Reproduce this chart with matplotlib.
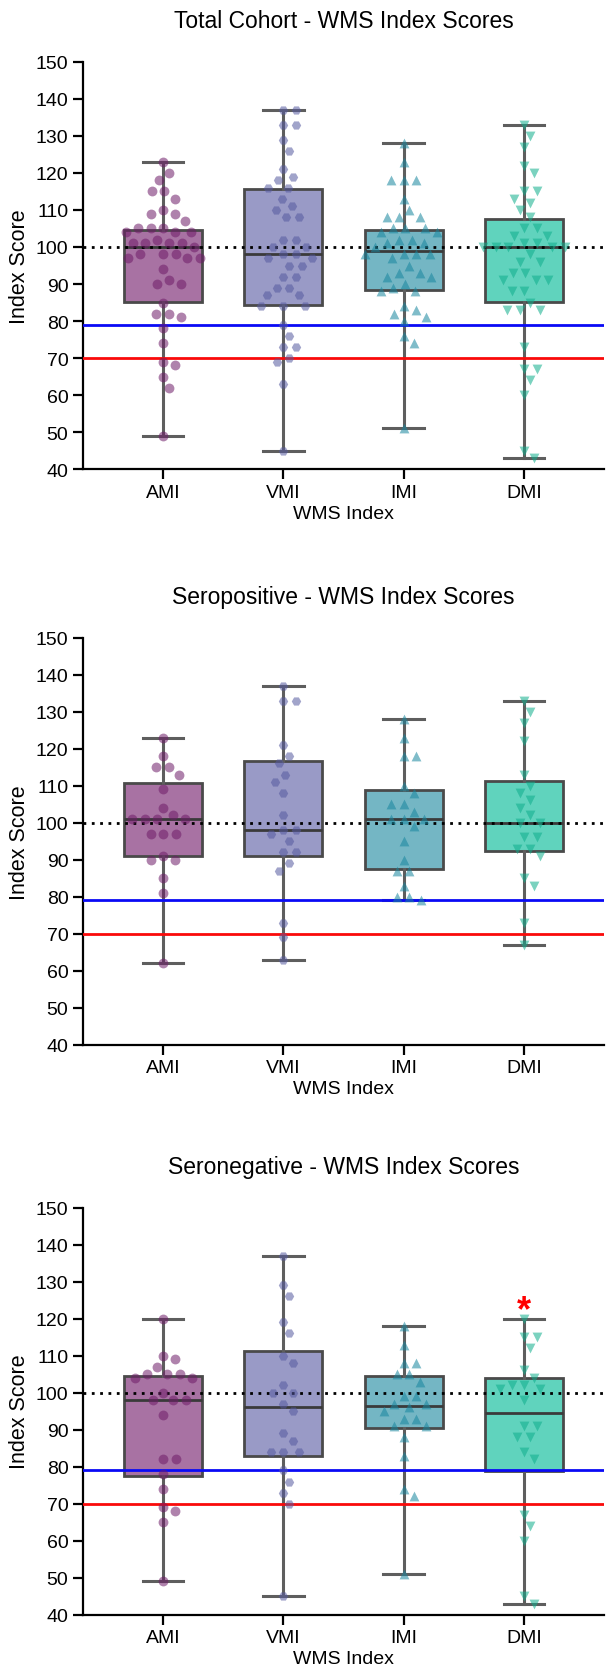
import numpy as np
import matplotlib.pyplot as plt

plt.rcParams['font.family'] = ['Liberation Sans', 'DejaVu Sans']

# --- data (index scores) ---
categories = ['AMI', 'VMI', 'IMI', 'DMI']
titles = ['Total Cohort - WMS Index Scores',
          'Seropositive - WMS Index Scores',
          'Seronegative - WMS Index Scores']

total_ami = [123, 120, 118, 115, 115, 113, 110, 109, 109, 107, 105, 105, 105, 104, 104, 104,
             102, 101, 101, 101, 101, 100, 98, 98, 98, 97, 97, 97, 94, 91, 90, 90, 85, 82, 82,
             81, 78, 74, 69, 68, 65, 62, 49]
total_vmi = [137, 137, 133, 133, 129, 126, 121, 119, 118, 116, 116, 113, 111, 110, 108, 108,
             102, 102, 100, 100, 98, 98, 97, 97, 95, 95, 92, 92, 89, 89, 87, 87, 84, 84, 84,
             79, 76, 73, 73, 70, 69, 63, 45]
total_imi = [128, 123, 118, 118, 118, 113, 110, 108, 108, 108, 105, 105, 105, 104, 104, 102,
             102, 101, 101, 100, 98, 98, 98, 98, 97, 95, 93, 93, 92, 92, 90, 89, 88, 88, 84,
             83, 82, 81, 80, 76, 74, 51]
total_dmi = [133, 130, 127, 122, 120, 115, 115, 113, 112, 110, 108, 105, 105, 103, 103, 101,
             101, 100, 100, 100, 100, 100, 98, 96, 96, 93, 93, 91, 91, 91, 88, 88, 85, 83, 83,
             83, 73, 67, 67, 64, 60, 45, 43]

pos_ami = [123, 118, 115, 115, 113, 109, 104, 102, 101, 101, 101, 101, 97, 97, 97, 91, 90, 90,
           85, 81, 62]
pos_vmi = [137, 133, 133, 121, 118, 116, 113, 111, 108, 102, 98, 98, 97, 95, 92, 92, 89, 87,
           73, 69, 63]
pos_imi = [128, 123, 118, 118, 110, 108, 105, 105, 103, 101, 101, 101, 99, 95, 90, 87, 87, 83,
           80, 80, 79]
pos_dmi = [133, 130, 127, 122, 113, 110, 108, 106, 104, 102, 100, 100, 96, 96, 93, 93, 91, 85,
           83, 73, 67]

neg_ami = [120, 110, 109, 107, 105, 105, 105, 104, 104, 100, 98, 98, 98, 94, 82, 82, 78, 74,
           69, 68, 65, 49]
neg_vmi = [137, 129, 126, 119, 116, 110, 108, 102, 100, 100, 97, 95, 89, 87, 84, 84, 84, 79,
           76, 73, 70, 45]
neg_imi = [118, 113, 108, 108, 105, 105, 103, 99, 99, 97, 97, 96, 95, 93, 93, 91, 91, 88, 83,
           74, 72, 51]
neg_dmi = [120, 115, 115, 112, 106, 104, 102, 102, 101, 101, 98, 91, 91, 88, 88, 84, 82, 67,
           64, 60, 45, 43]

# box quartiles (Q1, median, Q3) per panel, in category order
total_q1 = [85.2, 84.3, 88.4, 85.2]
total_med = [100, 98, 99, 100]
total_q3 = [104.5, 115.6, 104.5, 107.5]
pos_q1 = [91, 91, 87.4, 92.3]
pos_med = [101, 98, 101, 100]
pos_q3 = [110.6, 116.7, 108.7, 111.2]
neg_q1 = [77.4, 83, 90.4, 78.8]
neg_med = [98, 96, 96.4, 94.5]
neg_q3 = [104.5, 111.3, 104.5, 104]

ref_mean = 100
ref_blue = 79
ref_red = 70

panels = [
    ([total_ami, total_vmi, total_imi, total_dmi], total_q1, total_med, total_q3),
    ([pos_ami, pos_vmi, pos_imi, pos_dmi], pos_q1, pos_med, pos_q3),
    ([neg_ami, neg_vmi, neg_imi, neg_dmi], neg_q1, neg_med, neg_q3),
]

box_colors = ['#a872a3', '#999ac6', '#74b6c4', '#60d3bd']
point_colors = ['#6e1c68', '#55599f', '#17869e', '#0fae8c']
markers = ['o', 'H', '^', 'v']


def swarm_offsets(vals, d=12.5, ypx=3.7):
    # simple greedy beeswarm, works in pixel units
    vals = np.asarray(vals, dtype=float)
    order = np.argsort(-vals, kind='stable')
    placed = []
    offs = np.zeros(len(vals))
    for i in order:
        y = vals[i] * ypx
        near = [(x, yy) for x, yy in placed if abs(yy - y) < d]
        cands = [0.0]
        for x, yy in near:
            dx = np.sqrt(d * d - (yy - y) ** 2)
            cands += [x - dx, x + dx]
        cands.sort(key=lambda c: (round(abs(c), 3), c < 0))
        for c in cands:
            if all((c - x) ** 2 + (y - yy) ** 2 >= d * d - 1e-6 for x, yy in near):
                break
        offs[i] = c
        placed.append((c, y))
    return offs


fig = plt.figure(figsize=(6.08, 16.74), dpi=100)
bottoms = [0.7192, 0.3753, 0.0348]
xpx = 120.3  # pixels per category step

for k, (groups, q1, med, q3) in enumerate(panels):
    ax = fig.add_axes([0.1365, bottoms[k], 0.857, 0.2432])

    stats = []
    for j, g in enumerate(groups):
        stats.append({'med': med[j], 'q1': q1[j], 'q3': q3[j],
                      'whislo': min(g), 'whishi': max(g), 'fliers': [], 'label': categories[j]})
    bp = ax.bxp(stats, positions=range(4), widths=0.65, patch_artist=True,
                showfliers=False, manage_ticks=False,
                boxprops=dict(edgecolor='#4a4a4a', linewidth=2.0),
                medianprops=dict(color='#3a3a3a', linewidth=2.0),
                whiskerprops=dict(color='#5e5e5e', linewidth=2.2),
                capprops=dict(color='#5e5e5e', linewidth=2.2),
                capwidths=0.34)
    for patch, c in zip(bp['boxes'], box_colors):
        patch.set_facecolor(c)
        patch.set_zorder(1)
    for key in ['whiskers', 'caps', 'medians']:
        for ln in bp[key]:
            ln.set_zorder(2)

    ax.axhline(ref_mean, color='black', linestyle=(0, (1, 2)), linewidth=2.0, zorder=3)
    ax.axhline(ref_blue, color='#0a0af5', linewidth=2.0, zorder=3)
    ax.axhline(ref_red, color='#fa0a0a', linewidth=2.0, zorder=3)

    for j, g in enumerate(groups):
        offs = swarm_offsets(g) / xpx
        ax.scatter(j + offs, g, s=50 if markers[j] != 'H' else 46, marker=markers[j],
                   color=point_colors[j], alpha=0.55, linewidths=0, zorder=4)

    if k == 2:
        ax.text(3, 117.5, '*', color='red', fontsize=26, fontweight='bold',
                ha='center', va='bottom', zorder=5)

    ax.set_xlim(-0.665, 3.665)
    ax.set_ylim(40, 150)
    ax.set_yticks(np.arange(40, 151, 10))
    ax.set_xticks(range(4))
    ax.set_xticklabels(categories)
    ax.spines['top'].set_visible(False)
    ax.spines['right'].set_visible(False)
    ax.spines['left'].set_linewidth(1.6)
    ax.spines['bottom'].set_linewidth(1.6)
    ax.tick_params(axis='both', direction='out', length=7, width=1.6, labelsize=14)
    ax.set_ylabel('Index Score', fontsize=15.5, labelpad=4)
    ax.set_xlabel('WMS Index', fontsize=14, labelpad=3)
    ax.set_title(titles[k], fontsize=16.5, pad=25)

fig.savefig('out.png', dpi=100)
